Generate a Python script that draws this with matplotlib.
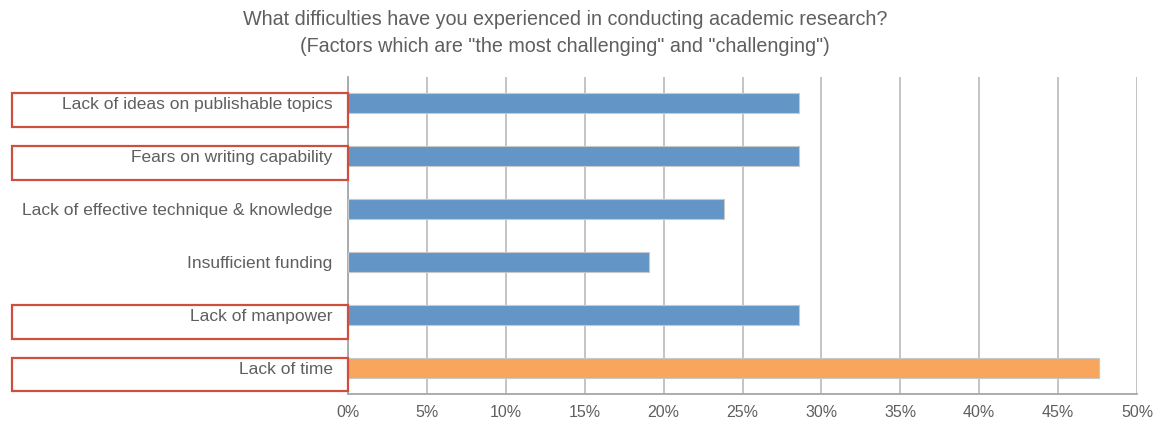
import matplotlib.pyplot as plt
import matplotlib.transforms as mtransforms
from matplotlib.patches import Rectangle
from matplotlib.ticker import PercentFormatter

plt.rcParams['font.family'] = ['Liberation Sans', 'DejaVu Sans']

# Données du graphique
factors = ['Lack of ideas on publishable topics',
           'Fears on writing capability',
           'Lack of effective technique & knowledge',
           'Insufficient funding',
           'Lack of manpower',
           'Lack of time']
shares = [28.57, 28.57, 23.81, 19.05, 28.57, 47.62]
bar_colors = ['#6396c6', '#6396c6', '#6396c6', '#6396c6', '#6396c6', '#f8a65d']
boxed = [True, True, False, False, True, True]

title = ('What difficulties have you experienced in conducting academic research?\n'
         '(Factors which are "the most challenging" and "challenging")')

grey = '#5f5f5f'

fig = plt.figure(figsize=(11.6, 4.21), dpi=100)
ax = fig.add_axes([348 / 1160, 1 - 394 / 421, (1137 - 348) / 1160, (394 - 77) / 421])

y = range(len(factors))
ax.barh(y, shares, height=0.38, color=bar_colors, edgecolor='#c8c8c8', linewidth=0.8, zorder=3)
ax.set_ylim(len(factors) - 0.5, -0.5)
ax.set_xlim(0, 50)
ax.set_xticks(range(0, 51, 5))
ax.xaxis.set_major_formatter(PercentFormatter(decimals=0))
ax.set_yticks(list(y))
ax.set_yticklabels(factors)
ax.tick_params(axis='both', length=0, colors=grey)
ax.tick_params(axis='x', pad=8, labelsize=11.5)
ax.tick_params(axis='y', pad=11, labelsize=12.5)
ax.grid(axis='x', color='#bfbfbf', linewidth=1.3, zorder=0)

for side in ['top', 'right']:
    ax.spines[side].set_visible(False)
for side in ['left', 'bottom']:
    ax.spines[side].set_color('#a6a6a6')
    ax.spines[side].set_linewidth(1.3)

# Cadres rouges autour de certaines étiquettes
trans = mtransforms.blended_transform_factory(ax.transAxes, ax.transData)
for i, b in enumerate(boxed):
    if b:
        ax.add_patch(Rectangle((-0.426, i - 0.19), 0.426, 0.64, transform=trans,
                               fill=False, edgecolor='#cf4f3f', linewidth=1.6,
                               clip_on=False, zorder=5))

fig.text(565 / 1160, 1 - 33 / 421, title, ha='center', va='center',
         color=grey, fontsize=14.2, linespacing=1.55)

fig.savefig('out.png', dpi=100)
